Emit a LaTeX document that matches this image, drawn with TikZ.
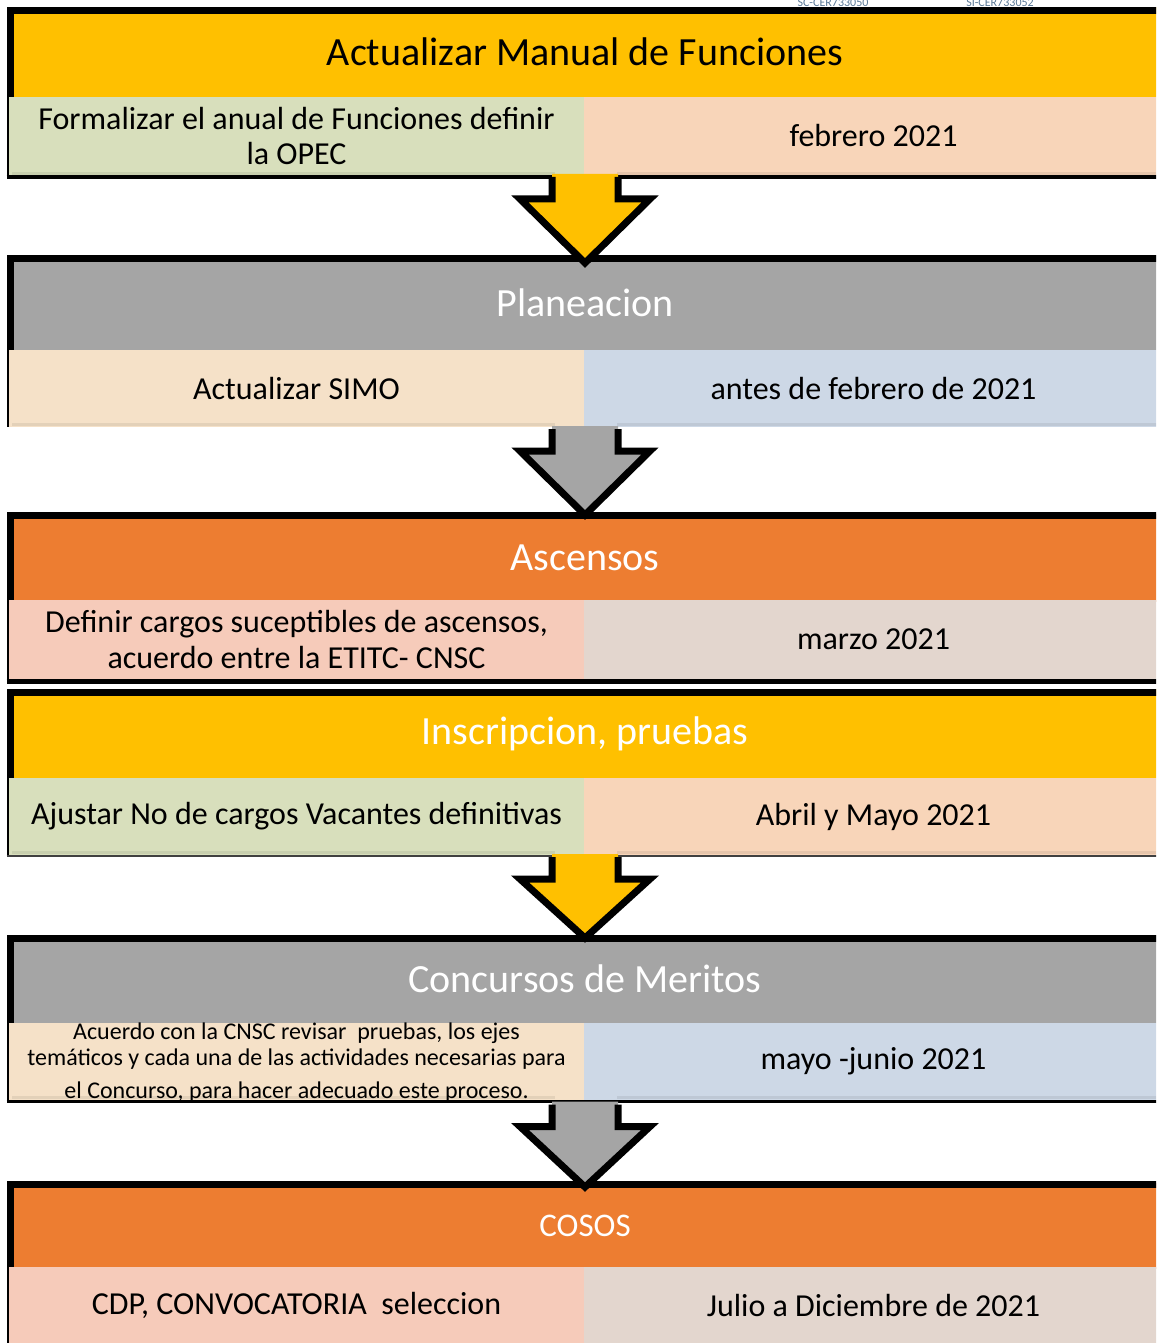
\documentclass[tikz,border=0pt]{standalone}
\usepackage{fontspec}
\setmainfont{Carlito}
\usetikzlibrary{calc}
\definecolor{hyel}{HTML}{FFC000}
\definecolor{hgry}{HTML}{A5A5A5}
\definecolor{horg}{HTML}{ED7D31}
\definecolor{cgrn}{HTML}{D8DFBC}
\definecolor{cpch}{HTML}{F8D5B9}
\definecolor{ctan}{HTML}{F5E1C8}
\definecolor{cblu}{HTML}{CDD8E6}
\definecolor{cpnk}{HTML}{F6CBBA}
\definecolor{cgry}{HTML}{E3D6CE}
\definecolor{codetxt}{HTML}{5A7896}
\newcommand{\blkarrow}[4]{%
  \fill[#3] ($(#1)+(-32,-1)$) -- ($(#1)+(-32,24)$) -- ($(#1)+(-64,24)$) -- ([yshift=#4]#2) -- ($(#1)+(66,24)$) -- ($(#1)+(34,24)$) -- ($(#1)+(34,-1)$) -- cycle;
  \draw[arrowline] ($(#1)+(-32,2)$) -- ($(#1)+(-32,24)$) -- ($(#1)+(-64,24)$) -- ([yshift=#4]#2) -- ($(#1)+(66,24)$) -- ($(#1)+(34,24)$) -- ($(#1)+(34,2)$);
}
\begin{document}
\begin{tikzpicture}[x=1pt,y=-1pt,
  hdr/.style={anchor=north west, minimum width=1156pt, inner sep=0pt, outer sep=0pt, text=white, font=\fontsize{40}{45}\selectfont},
  cellL/.style={anchor=north west, minimum width=575pt, inner sep=0pt, outer sep=0pt, align=center, font=\fontsize{32}{35}\selectfont},
  cellR/.style={anchor=north west, minimum width=579pt, inner sep=0pt, outer sep=0pt, align=center, font=\fontsize{32}{35}\selectfont},
  bline/.style={line width=7pt, line join=miter},
  shadeline/.style={line width=3pt, black, opacity=0.07},
  arrowline/.style={line width=7pt, line join=miter, miter limit=10},
  codelbl/.style={anchor=base, text=codetxt, font=\fontsize{12}{13}\selectfont, inner sep=0pt}
  ]
\useasboundingbox (0,0) rectangle (1156,1343);
\clip (0,0) rectangle (1156,1343);

% top codes (cut off)
\node[codelbl] (code1) at (833,7) {SC-CER733050};
\node[codelbl] (code2) at (1000,7) {SI-CER733052};

% Block 1
\node[hdr, fill=hyel, text=black, minimum height=90pt] (h1) at (7,7) {Actualizar Manual de Funciones};
\draw[bline] (1170,10.5) -| (10,179);
\node[cellL, fill=cgrn, minimum height=78pt] (l1) at (9,97) {Formalizar el anual de Funciones definir\\la OPEC};
\node[cellR, fill=cpch, minimum height=78pt] (r1) at (584,97) {febrero 2021};
\draw[line width=4.5pt] (6.5,177.25) -- (1170,177.25);
\draw[shadeline] (12,173.5) -- (555,173.5);
\draw[shadeline] (617,173.5) -- (1170,173.5);

% Block 2
\node[hdr, fill=hgry, minimum height=95pt] (h2) at (7,255) {Planeacion};
\draw[bline] (1170,258.5) -| (10,427);
\node[cellL, fill=ctan, minimum height=77pt] (l2) at (9,350) {Actualizar SIMO};
\node[cellR, fill=cblu, minimum height=77pt] (r2) at (584,350) {antes de febrero de 2021};
\draw[shadeline] (12,424.5) -- (555,424.5);
\draw[shadeline] (617,424.5) -- (1170,424.5);

% Block 3
\node[hdr, fill=horg, minimum height=88pt, text depth=0pt] (h3) at (7,514) {Ascensos};
\draw[bline] (1170,515.5) -| (10,684);
\node[cellL, fill=cpnk, minimum height=79pt, font=\fontsize{32}{36}\selectfont] (l3) at (9,600) {Definir cargos suceptibles de ascensos,\\acuerdo entre la ETITC- CNSC};
\node[cellR, fill=cgry, minimum height=79pt] (r3) at (584,600) {marzo 2021};
\draw[line width=5pt] (6.5,681.5) -- (1170,681.5);

% Block 4
\node[hdr, fill=hyel, minimum height=89pt] (h4) at (7,689) {Inscripcion, pruebas};
\draw[bline] (1170,692.5) -| (10,857);
\node[cellL, fill=cgrn, minimum height=77pt] (l4) at (9,778) {Ajustar No de cargos Vacantes definitivas};
\node[cellR, fill=cpch, minimum height=77pt] (r4) at (584,778) {Abril y Mayo 2021};
\draw[line width=1.5pt, black!75] (6.5,856) -- (1170,856);
\draw[shadeline] (12,852.5) -- (555,852.5);
\draw[shadeline] (617,852.5) -- (1170,852.5);

% Block 5
\node[hdr, fill=hgry, minimum height=88pt] (h5) at (7,935) {Concursos de Meritos};
\draw[bline] (1170,938.5) -| (10,1103);
\node[cellL, fill=ctan, minimum height=77pt, font=\fontsize{24}{26}\selectfont] (l5) at (9,1023) {Acuerdo con la CNSC revisar\ \ pruebas, los ejes\\tem\'aticos y cada una de las actividades necesarias para\\[7pt]el Concurso, para hacer adecuado este proceso.};
\node[cellR, fill=cblu, minimum height=77pt] (r5) at (584,1023) {mayo -junio 2021};
\draw[line width=3.5pt] (6.5,1101.5) -- (1170,1101.5);
\draw[shadeline] (12,1097.5) -- (555,1097.5);
\draw[shadeline] (617,1097.5) -- (1170,1097.5);

% Block 6
\node[hdr, fill=horg, minimum height=86pt, font=\fontsize{33}{36}\selectfont, text depth=0pt] (h6) at (7,1183) {COSOS};
\draw[bline] (1170,1184.5) -| (10,1360);
\node[cellL, fill=cpnk, minimum height=76pt] (l6) at (9,1267) {CDP, CONVOCATORIA\ \ seleccion};
\node[cellR, fill=cgry, minimum height=76pt] (r6) at (584,1267) {Julio a Diciembre de 2021};

% Arrows
\blkarrow{l1.south east}{h2.north}{hyel}{-8pt}
\blkarrow{l2.south east}{h3.north}{hgry}{-1pt}
\blkarrow{l4.south east}{h5.north}{hyel}{-3pt}
\blkarrow{l5.south east}{h6.north}{hgry}{-4pt}
\end{tikzpicture}
\end{document}
